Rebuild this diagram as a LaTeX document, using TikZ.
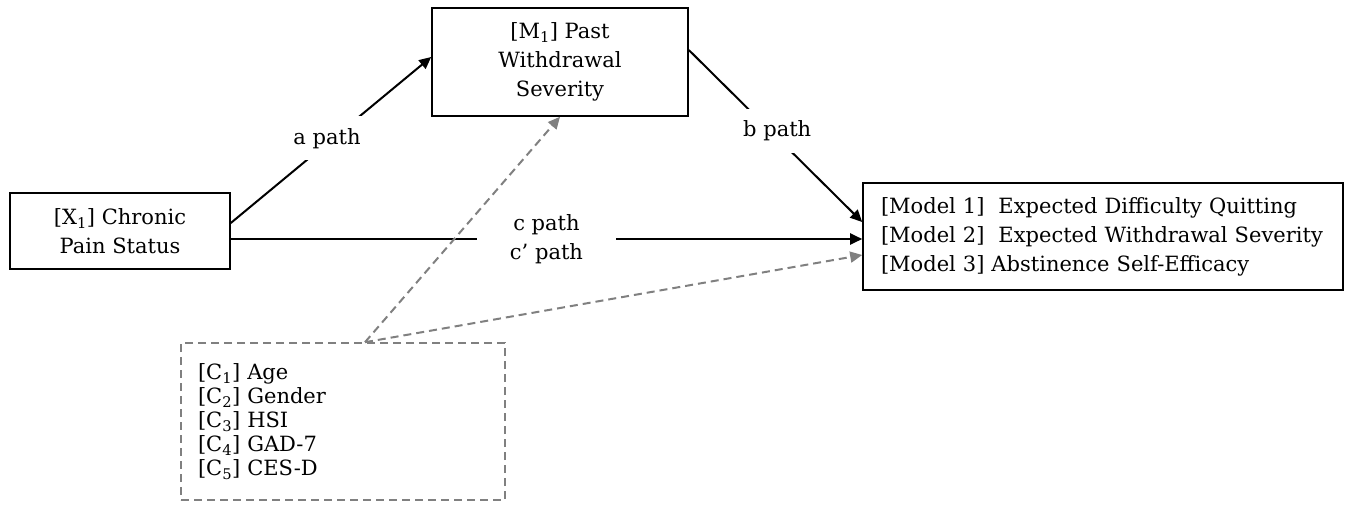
\documentclass[tikz,border=0pt]{standalone}
\usepackage{fontspec}
\setmainfont{DejaVu Serif}
\usetikzlibrary{arrows.meta}

\begin{document}
\begin{tikzpicture}[x=1pt, y=-1pt, line width=2pt,
  >={Triangle[length=12pt, width=11pt]},
  box/.style={draw, rectangle, line width=1.6pt, inner sep=0pt},
  txt/.style={font=\fontsize{21}{29}\selectfont},
  tight/.style={font=\fontsize{21}{24}\selectfont},
  lbl/.style={txt, fill=white, inner sep=12pt, align=center},
  cov/.style={gray, dash pattern=on 8pt off 5pt}]
\useasboundingbox (0,0) rectangle (1360,508);
\node[box, txt, align=center, minimum width=220pt, minimum height=76pt] (X1) at (120,231) {[X\textsubscript{1}] Chronic\\Pain Status};
\node[box, txt, align=center, minimum width=256pt, minimum height=108pt] (M1) at (560,62) {[M\textsubscript{1}] Past\\Withdrawal\\Severity};
\node[box, txt, text width=444pt, align=left, inner xsep=18pt, minimum height=107pt] (Out) at (1103,236.5) {%
  {[Model 1]}\ \ Expected Difficulty Quitting\\
  {[Model 2]}\ \ Expected Withdrawal Severity\\
  {[Model 3]} Abstinence Self-Efficacy};
\node[box, cov, tight, text=black, text width=290pt, align=left, inner xsep=17pt, minimum height=157pt] (Cov) at (343,421.5) {%
  {[C\textsubscript{1}]} Age\\
  {[C\textsubscript{2}]} Gender\\
  {[C\textsubscript{3}]} HSI\\
  {[C\textsubscript{4}]} GAD-7\\
  {[C\textsubscript{5}]} CES-D};
% paths
\draw[->] ([yshift=8pt]X1.east) -- ([yshift=5pt]M1.west) node[lbl, pos=0.48, yshift=5pt] {a path};
\draw[->] ([yshift=12pt]M1.east) -- ([yshift=14.5pt]Out.west) node[lbl, pos=0.51, yshift=7pt] {b path};
\draw[->] ([yshift=-8pt]X1.east) -- ([yshift=-2.5pt]Out.west) node[lbl, midway, inner xsep=33pt, inner ysep=2pt] {c path\\c’ path};
% covariates
\draw[->, cov] ([xshift=22pt]Cov.north) -- (M1.south);
\draw[->, cov] ([xshift=22pt]Cov.north) -- ([yshift=-18.5pt]Out.west);
\end{tikzpicture}
\end{document}
